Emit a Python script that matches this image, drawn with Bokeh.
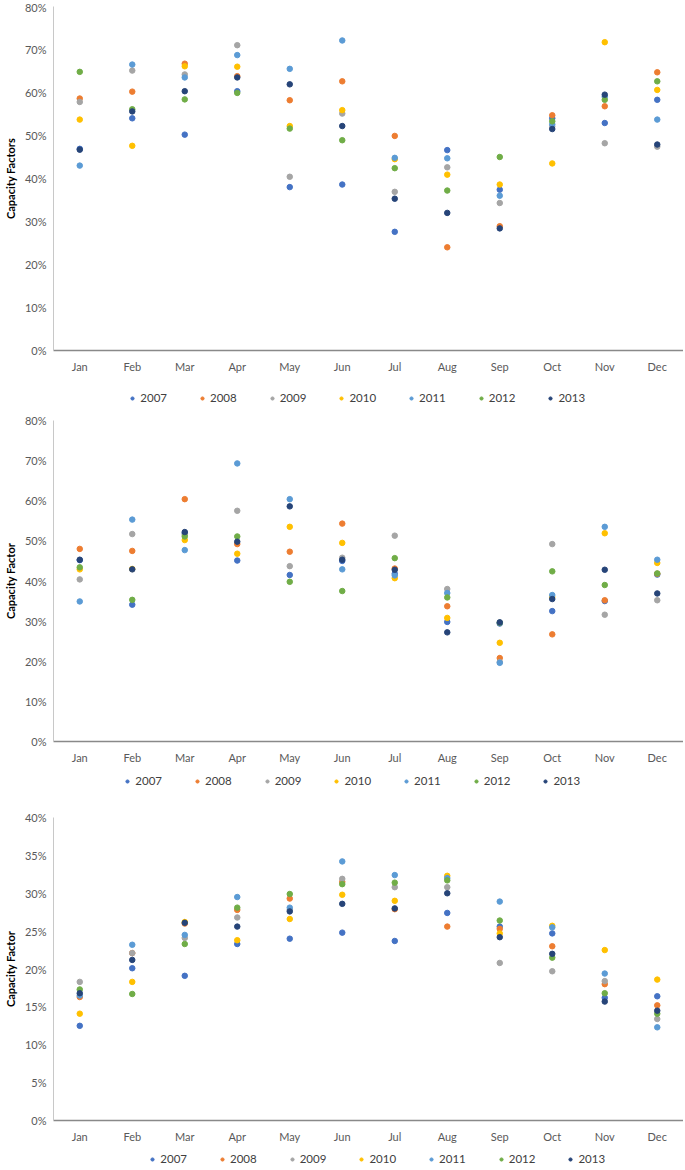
from bokeh.plotting import figure
from bokeh.layouts import column
from bokeh.models import Range1d, PrintfTickFormatter, SingleIntervalTicker
from bokeh.embed import file_html
from bokeh.resources import INLINE

months = ["Jan", "Feb", "Mar", "Apr", "May", "Jun", "Jul", "Aug", "Sep", "Oct", "Nov", "Dec"]
years = ["2007", "2008", "2009", "2010", "2011", "2012", "2013"]
colors = ["#4472C4", "#ED7D31", "#A5A5A5", "#FFC000", "#5B9BD5", "#70AD47", "#264478"]

# Chart 1 (values in %)
c1_2007 = [46.9, 54.0, 50.2, 60.3, 38.0, 38.6, 27.6, 46.6, 37.4, 54.0, 52.9, 58.3]
c1_2008 = [58.6, 60.2, 66.7, 63.8, 58.2, 62.6, 49.9, 24.0, 28.9, 54.7, 56.8, 64.7]
c1_2009 = [57.8, 65.1, 64.2, 71.0, 40.4, 55.1, 36.9, 42.6, 34.3, 52.1, 48.2, 47.4]
c1_2010 = [53.7, 47.6, 66.1, 66.0, 52.2, 55.9, 44.5, 40.9, 38.6, 43.5, 71.7, 60.6]
c1_2011 = [43.0, 66.5, 63.5, 68.7, 65.5, 72.1, 44.8, 44.7, 36.0, 52.6, 59.0, 53.7]
c1_2012 = [64.8, 56.1, 58.4, 59.9, 51.6, 48.9, 42.4, 37.2, 45.0, 53.3, 58.3, 62.6]
c1_2013 = [46.7, 55.6, 60.3, 63.5, 61.9, 52.2, 35.3, 32.0, 28.4, 51.5, 59.5, 47.9]

# Chart 2
c2_2007 = [45.2, 34.1, 51.9, 45.1, 41.5, 45.0, 41.8, 29.8, 29.4, 32.5, 35.0, 41.6]
c2_2008 = [48.0, 47.5, 60.4, 49.2, 47.3, 54.3, 43.1, 33.7, 20.8, 26.7, 35.2, 41.8]
c2_2009 = [40.4, 51.7, 51.5, 57.5, 43.7, 45.8, 51.3, 38.0, 19.8, 49.2, 31.6, 35.2]
c2_2010 = [42.9, 43.0, 50.2, 46.8, 53.5, 49.5, 40.7, 30.8, 24.6, 36.0, 51.9, 44.5]
c2_2011 = [34.9, 55.3, 47.7, 69.3, 60.4, 42.9, 41.4, 37.0, 19.6, 36.5, 53.5, 45.3]
c2_2012 = [43.4, 35.3, 51.1, 51.1, 39.8, 37.5, 45.7, 35.9, 29.6, 42.4, 39.0, 41.9]
c2_2013 = [45.3, 42.9, 52.2, 49.8, 58.6, 45.3, 42.8, 27.2, 29.7, 35.5, 42.8, 36.9]

# Chart 3
c3_2007 = [12.5, 20.1, 19.1, 23.3, 24.0, 24.8, 23.7, 27.4, 25.6, 24.7, 16.2, 16.4]
c3_2008 = [16.3, 22.1, 26.0, 27.8, 29.3, 31.5, 27.9, 25.6, 25.3, 23.0, 18.0, 15.2]
c3_2009 = [18.3, 22.1, 24.1, 26.8, 27.8, 31.9, 30.8, 30.8, 20.8, 19.7, 18.4, 13.4]
c3_2010 = [14.1, 18.3, 26.2, 23.8, 26.6, 29.8, 29.0, 32.3, 24.7, 25.7, 22.5, 18.6]
c3_2011 = [16.5, 23.2, 24.5, 29.5, 28.1, 34.2, 32.4, 32.0, 28.9, 25.5, 19.4, 12.3]
c3_2012 = [17.3, 16.7, 23.3, 28.1, 29.9, 31.2, 31.4, 31.7, 26.4, 21.5, 16.8, 14.1]
c3_2013 = [16.8, 21.2, 26.1, 25.6, 27.6, 28.6, 28.0, 30.0, 24.2, 22.0, 15.7, 14.5]

FONT = "Lato"
LEFT = 46
FRAME_W = 630


def make_chart(series, ymax, step, ytitle, frame_h, top, bottom):
    p = figure(x_range=months, y_range=Range1d(0, ymax),
               frame_width=FRAME_W, frame_height=frame_h,
               output_backend="svg", toolbar_location=None,
               min_border_top=top, min_border_right=0, min_border_left=LEFT,
               min_border_bottom=bottom)
    p.outline_line_color = None
    p.xgrid.grid_line_color = None
    p.ygrid.grid_line_color = None
    for col, vals in zip(colors, series):
        p.scatter(x=months, y=vals, size=5.5, fill_color=col, line_color=col)

    p.yaxis.ticker = SingleIntervalTicker(interval=step)
    p.yaxis.formatter = PrintfTickFormatter(format="%d%%")
    p.yaxis.axis_line_color = "#C8C8C8"
    p.yaxis.major_tick_line_color = None
    p.yaxis.minor_tick_line_color = None
    p.yaxis.major_tick_out = 0
    p.yaxis.minor_tick_out = 0
    p.yaxis.major_label_text_font = FONT
    p.yaxis.major_label_text_font_size = "11px"
    p.yaxis.major_label_text_color = "#595959"
    p.yaxis.major_label_standoff = 7
    p.yaxis.axis_label = ytitle
    p.yaxis.axis_label_text_font = FONT
    p.yaxis.axis_label_text_font_size = "11px"
    p.yaxis.axis_label_text_font_style = "bold"
    p.yaxis.axis_label_text_color = "#000000"
    p.yaxis.axis_label_standoff = 5

    p.xaxis.axis_line_color = "#898989"
    p.xaxis.axis_line_width = 1.5
    p.xaxis.major_tick_line_color = None
    p.xaxis.minor_tick_line_color = None
    p.xaxis.major_tick_out = 0
    p.xaxis.minor_tick_out = 0
    p.xaxis.major_label_text_font = FONT
    p.xaxis.major_label_text_font_size = "11px"
    p.xaxis.major_label_text_color = "#595959"
    p.xaxis.major_label_standoff = 9
    return p


def make_legend(series, height, leg_x):
    # legend strip: the series lie outside its (negative) y range, only the key shows
    lg = figure(frame_width=FRAME_W, frame_height=height, x_range=months,
                y_range=Range1d(-2, -1),
                output_backend="svg", toolbar_location=None,
                x_axis_location=None, y_axis_location=None,
                min_border_top=0, min_border_bottom=0,
                min_border_left=LEFT, min_border_right=0)
    lg.outline_line_color = None
    lg.xgrid.grid_line_color = None
    lg.ygrid.grid_line_color = None
    for yr, col, vals in zip(years, colors, series):
        lg.scatter(x=months, y=vals, size=5, fill_color=col, line_color=col,
                   legend_label=yr)
    leg = lg.legend[0]
    leg.location = (leg_x, (height - 14) // 2)
    leg.orientation = "horizontal"
    leg.border_line_color = None
    leg.background_fill_alpha = 0
    leg.glyph_width = 8
    leg.glyph_height = 8
    leg.label_standoff = 4
    leg.spacing = 31
    leg.padding = 0
    leg.margin = 0
    leg.label_text_font = FONT
    leg.label_text_font_size = "11.5px"
    leg.label_text_color = "#404040"
    return lg


s1 = [c1_2007, c1_2008, c1_2009, c1_2010, c1_2011, c1_2012, c1_2013]
s2 = [c2_2007, c2_2008, c2_2009, c2_2010, c2_2011, c2_2012, c2_2013]
s3 = [c3_2007, c3_2008, c3_2009, c3_2010, c3_2011, c3_2012, c3_2013]

p1 = make_chart(s1, 80, 10, "Capacity Factors", 344, 6, 34)
l1 = make_legend(s1, 26, 113)
p2 = make_chart(s2, 80, 10, "Capacity Factor", 321, 10, 29)
l2 = make_legend(s2, 20, 108)
p3 = make_chart(s3, 40, 5, "Capacity Factor", 303, 27, 26)
l3 = make_legend(s3, 24, 133)

layout = column(p1, l1, p2, l2, p3, l3, spacing=0)
open("out.html", "w").write(file_html(layout, INLINE))
